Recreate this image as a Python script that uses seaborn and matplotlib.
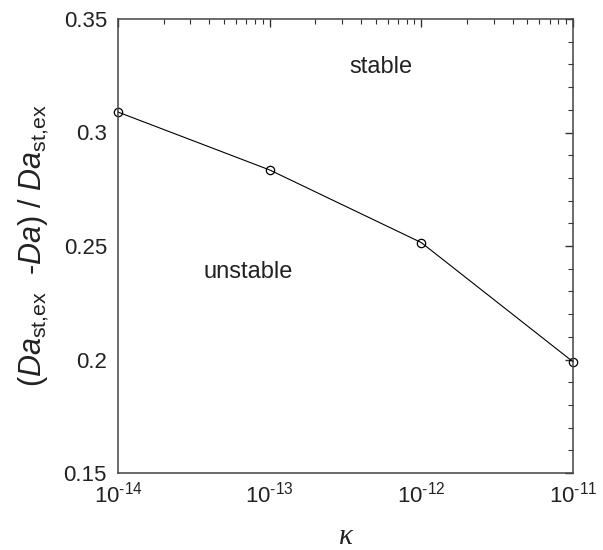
import matplotlib
matplotlib.use("Agg")
import matplotlib.pyplot as plt
from matplotlib.ticker import LogLocator, MultipleLocator, FixedLocator, NullFormatter
import seaborn as sns
import pandas as pd

# permeability values and critical Damkohler offset
kappa = [1e-14, 1e-13, 1e-12, 1e-11]
da_ratio = [0.309, 0.2835, 0.2515, 0.199]
x_tick_labels = [r"$10^{\text{-14}}$", r"$10^{\text{-13}}$", r"$10^{\text{-12}}$", r"$10^{\text{-11}}$"]
y_ticks = [0.15, 0.2, 0.25, 0.3, 0.35]
y_tick_labels = ["0.15", "0.2", "0.25", "0.3", "0.35"]

sns.set_theme(style="white")
plt.rcParams["font.family"] = ["Liberation Sans", "DejaVu Sans"]
plt.rcParams["mathtext.fontset"] = "custom"
plt.rcParams["mathtext.rm"] = "Liberation Sans"
plt.rcParams["mathtext.it"] = "Liberation Sans:italic"

df = pd.DataFrame({"kappa": kappa, "ratio": da_ratio})

fig = plt.figure(figsize=(6.03, 5.5), dpi=100)
ax = fig.add_axes([118 / 603, 1 - 473 / 550, 455 / 603, 454 / 550])

sns.lineplot(data=df, x="kappa", y="ratio", ax=ax, color="black", lw=0.8,
             marker="o", markersize=6, markerfacecolor="none",
             markeredgecolor="black", markeredgewidth=0.9, clip_on=False)

ax.set_xscale("log")
ax.set_xlim(1e-14, 1e-11)
ax.set_ylim(0.15, 0.35)
ax.xaxis.set_major_locator(FixedLocator(kappa))
ax.xaxis.set_minor_locator(LogLocator(base=10, subs=range(2, 10)))
ax.xaxis.set_minor_formatter(NullFormatter())
ax.set_xticklabels(x_tick_labels)
ax.yaxis.set_minor_locator(MultipleLocator(0.01))
ax.set_yticks(y_ticks)
ax.set_yticklabels(y_tick_labels)

ax.tick_params(which="both", direction="in", top=True, right=True,
               colors="#333333", labelcolor="#222222", labelsize=16)
ax.tick_params(which="major", length=6, width=1.0)
ax.tick_params(which="minor", length=3.5, width=0.8)
ax.tick_params(axis="x", pad=6)
ax.tick_params(axis="y", pad=8)
for s in ax.spines.values():
    s.set_color("#444444")
    s.set_linewidth(1.1)

ax.set_xlabel("κ", fontfamily="Liberation Serif", fontstyle="italic",
              fontsize=21, labelpad=12, color="#222222")
ax.set_ylabel(r"$(\mathit{Da}_{\text{st,ex}}\ \ \text{-}\mathit{Da})\ /\ \mathit{Da}_{\text{st,ex}}$",
              fontsize=22, labelpad=9, color="#222222")

ax.text(5.4e-13, 0.329, "stable", fontsize=17, ha="center", va="center", color="#222222")
ax.text(7.2e-14, 0.2385, "unstable", fontsize=17, ha="center", va="center", color="#222222")

fig.savefig("out.png", dpi=100)
